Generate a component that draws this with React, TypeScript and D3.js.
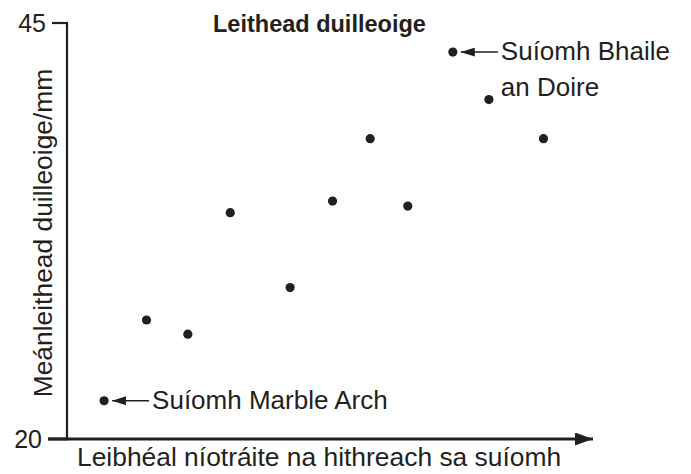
import React, { useEffect, useRef } from 'react';
import * as d3 from 'd3';

// nitrate level (no units shown) vs mean leaf width in mm
const nitrateLevel = [7.0, 15.0, 22.8, 30.8, 42.1, 50.1, 57.2, 64.3, 72.8, 79.6, 89.9];
const leafWidth = [22.3, 27.15, 26.3, 33.6, 29.1, 34.3, 38.05, 34.0, 43.25, 40.4, 38.05];
const yTicks = [20, 45];
const annotations = [
  { index: 0, lines: ['Suíomh Marble Arch'] },
  { index: 8, lines: ['Suíomh Bhaile', 'an Doire'] },
];

const App = () => {
  const svgRef = useRef<SVGSVGElement | null>(null);

  useEffect(() => {
    if (!svgRef.current) return;
    d3.select(svgRef.current).selectAll('*').remove();

    const width = 691;
    const height = 474;
    const margin = { top: 23, right: 94, bottom: 35, left: 67 };
    const ink = '#231f20';
    const font = 'Liberation Sans, Arial, sans-serif';

    const svg = d3.select(svgRef.current)
      .attr('width', width)
      .attr('height', height)
      .style('background', '#fff');

    const x = d3.scaleLinear()
      .domain([0, 100])
      .range([margin.left, width - margin.right]);
    const y = d3.scaleLinear()
      .domain([20, 45])
      .range([height - margin.bottom, margin.top]);

    const defs = svg.append('defs');
    defs.append('marker')
      .attr('id', 'axisArrow')
      .attr('viewBox', '0 0 18 13')
      .attr('refX', 18)
      .attr('refY', 6.5)
      .attr('markerWidth', 18)
      .attr('markerHeight', 13)
      .attr('markerUnits', 'userSpaceOnUse')
      .attr('orient', 'auto')
      .append('path')
      .attr('d', 'M0,0L18,6.5L0,13Z')
      .attr('fill', ink);
    defs.append('marker')
      .attr('id', 'noteArrow')
      .attr('viewBox', '0 0 14 9')
      .attr('refX', 14)
      .attr('refY', 4.5)
      .attr('markerWidth', 14)
      .attr('markerHeight', 9)
      .attr('markerUnits', 'userSpaceOnUse')
      .attr('orient', 'auto')
      .append('path')
      .attr('d', 'M0,0L14,4.5L0,9Z')
      .attr('fill', ink);

    const y0 = y(20);
    // y axis line
    svg.append('line')
      .attr('x1', x(0)).attr('x2', x(0))
      .attr('y1', y(45) - 1).attr('y2', y0)
      .attr('stroke', ink).attr('stroke-width', 2.2);

    yTicks.forEach(t => {
      const x1 = t === 45 ? x(0) - 15 : x(0) - 19;
      svg.append('line')
        .attr('x1', x1).attr('x2', x(0) + 1)
        .attr('y1', y(t)).attr('y2', y(t))
        .attr('stroke', ink).attr('stroke-width', t === 45 ? 2.2 : 2.8);
      svg.append('text')
        .attr('x', x1 - 6)
        .attr('y', y(t))
        .attr('dy', '0.36em')
        .attr('text-anchor', 'end')
        .attr('font-family', font)
        .attr('font-size', '25px')
        .attr('fill', ink)
        .text(t);
    });

    // x axis with arrow
    svg.append('line')
      .attr('x1', x(0) - 19).attr('x2', x(100) - 4)
      .attr('y1', y0).attr('y2', y0)
      .attr('stroke', ink).attr('stroke-width', 2.8)
      .attr('marker-end', 'url(#axisArrow)');

    // points
    svg.selectAll('circle.pt')
      .data(nitrateLevel)
      .enter()
      .append('circle')
      .attr('class', 'pt')
      .attr('cx', d => x(d))
      .attr('cy', (d, i) => y(leafWidth[i]))
      .attr('r', 4.6)
      .attr('fill', ink);

    // annotations
    annotations.forEach(a => {
      const px = x(nitrateLevel[a.index]);
      const py = y(leafWidth[a.index]);
      svg.append('line')
        .attr('x1', px + 45).attr('x2', px + 8)
        .attr('y1', py).attr('y2', py)
        .attr('stroke', ink).attr('stroke-width', 1.5)
        .attr('marker-end', 'url(#noteArrow)');
      a.lines.forEach((ln, j) => {
        svg.append('text')
          .attr('x', px + 48)
          .attr('y', py + 8 + j * 36)
          .attr('font-family', font)
          .attr('font-size', '26px')
          .attr('fill', ink)
          .text(ln);
      });
    });

    // title
    svg.append('text')
      .attr('x', 213)
      .attr('y', 32)
      .attr('font-family', font)
      .attr('font-size', '23.5px')
      .attr('font-weight', 'bold')
      .attr('fill', ink)
      .text('Leithead duilleoige');

    // axis titles
    svg.append('text')
      .attr('x', 77)
      .attr('y', 466)
      .attr('font-family', font)
      .attr('font-size', '26.4px')
      .attr('fill', ink)
      .text('Leibhéal níotráite na hithreach sa suíomh');

    svg.append('text')
      .attr('transform', `translate(52, 233) rotate(-90)`)
      .attr('text-anchor', 'middle')
      .attr('font-family', font)
      .attr('font-size', '26.4px')
      .attr('fill', ink)
      .text('Meánleithead duilleoige/mm');
  }, []);

  return (
    <div style={{ position: 'absolute', left: 0, top: 0 }}>
      <svg ref={svgRef}></svg>
    </div>
  );
};

export default App;
